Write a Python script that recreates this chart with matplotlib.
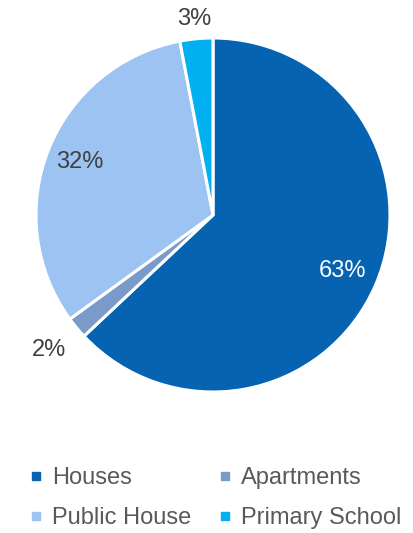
import numpy as np
import matplotlib.pyplot as plt
from matplotlib.lines import Line2D

plt.rcParams['font.family'] = ['Liberation Sans', 'DejaVu Sans']

categories = ['Houses', 'Apartments', 'Public House', 'Primary School']
shares = [63, 2, 32, 3]
colors = ['#0563B1', '#7A9AC9', '#9DC3F2', '#00B0F0']
label_colors = ['white', '#404040', '#404040', '#404040']
label_radius = [0.80, 1.20, 0.81, 1.11]

W, H = 414, 533
fig = plt.figure(figsize=(W / 100, H / 100), dpi=100)

# pie centre and radius in pixels
cx, cy, r = 213, 215, 177
ax = fig.add_axes([(cx - r) / W, (H - cy - r) / H, 2 * r / W, 2 * r / H])

wedges, _ = ax.pie(shares, colors=colors, startangle=90, counterclock=False,
                   radius=1, wedgeprops=dict(edgecolor='white', linewidth=2.2))
ax.set_xlim(-1, 1)
ax.set_ylim(-1, 1)
ax.set_aspect('auto')
ax.axis('off')

# percentage labels at each wedge's mid angle
for w, val, col, rad in zip(wedges, shares, label_colors, label_radius):
    mid = np.deg2rad((w.theta1 + w.theta2) / 2)
    ax.text(rad * np.cos(mid), rad * np.sin(mid), f'{val}%', color=col,
            fontsize=17, ha='center', va='center', clip_on=False)

handles = [Line2D([], [], marker='s', linestyle='none', markersize=6,
                  markerfacecolor=c, markeredgecolor=c) for c in colors]
# legend fills column-wise, so reorder to read row by row
order = [0, 2, 1, 3]
fig.legend([handles[i] for i in order], [categories[i] for i in order],
           loc='upper left', bbox_to_anchor=(0.045, 1 - 455 / H),
           ncol=2, frameon=False, fontsize=17, labelcolor='#595959',
           handlelength=0.5, handletextpad=0.4, columnspacing=1.2,
           labelspacing=0.78, borderpad=0)

fig.savefig('out.png', dpi=100)
